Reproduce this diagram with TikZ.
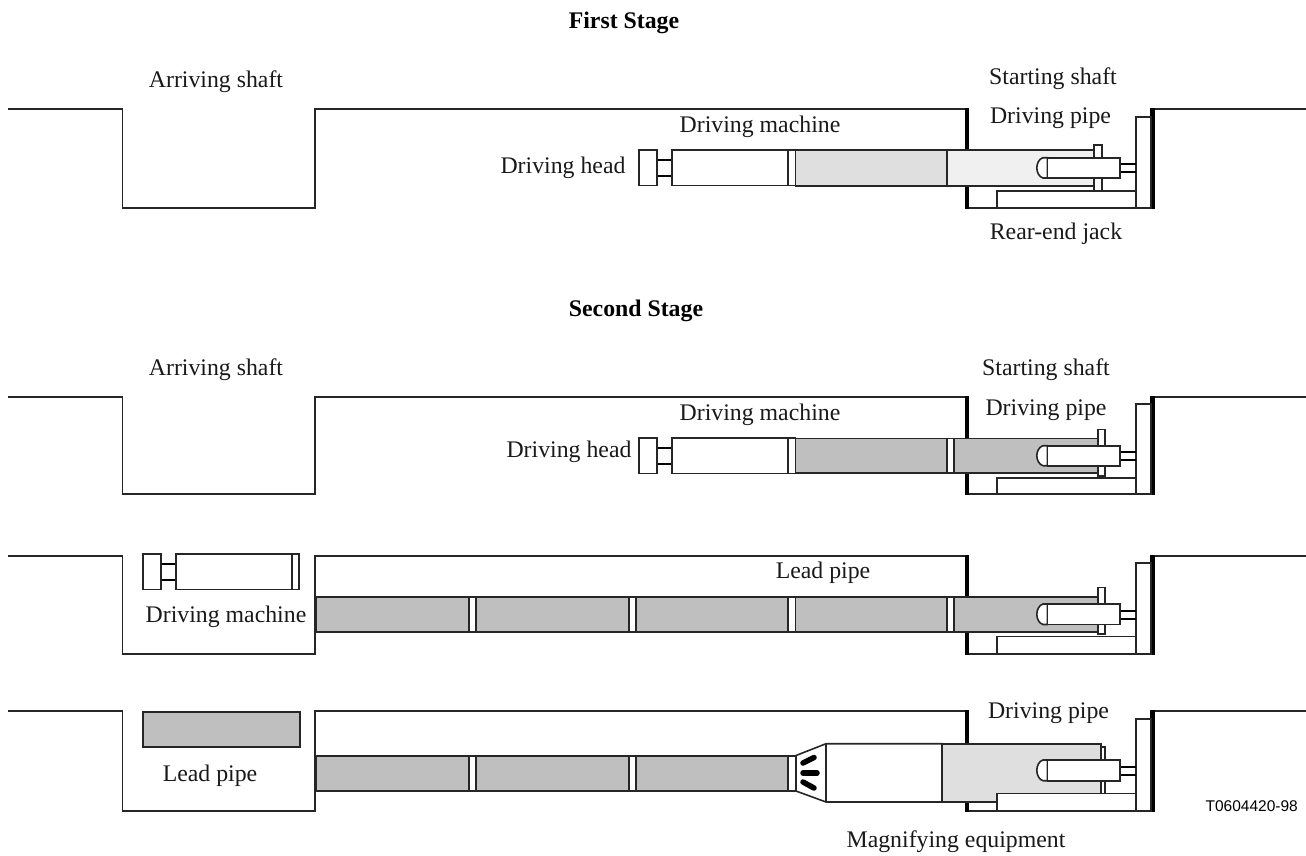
\documentclass[tikz,border=0pt]{standalone}
\usepackage{fontspec}
\setmainfont{Liberation Serif}
\newfontfamily\smallsans{Liberation Sans}
\tikzset{
  thinline/.style={draw=black!85,line width=1.6pt},
  wall/.style={draw=black,line width=4.2pt},
  rod/.style={draw=black,line width=2pt},
  blade/.style={draw=black,line width=5.5pt,line cap=round},
  white box/.style={thinline,fill=white},
  dark pipe/.style={thinline,fill=pipedark},
  light pipe/.style={thinline,fill=pipelight},
  pale pipe/.style={thinline,fill=pipepale},
  lab/.style={font=\fontsize{23.8}{28}\selectfont,anchor=base,inner sep=0pt,text=black!90},
  head/.style={font=\fontsize{23.8}{28}\selectfont\bfseries,anchor=base,inner sep=0pt},
}
\definecolor{pipedark}{gray}{0.75}
\definecolor{pipelight}{gray}{0.875}
\definecolor{pipepale}{gray}{0.94}
% ground profile: #1 ground y, #2 pit bottom y
\newcommand{\groundline}[2]{%
  \draw[thinline] (8,#1) -- (122.5,#1) -- (122.5,#2) -- (315,#2) -- (315,#1) -- (967,#1);
  \draw[thinline] (1152,#1) -- (1306,#1);
  \draw[thinline] (967,#2) -- (1152,#2);
  \draw[wall] (967,#1-1) -- (967,#2+1);
  \draw[wall] (1152.5,#1-1) -- (1152.5,#2+1);
}
% rear jack: #1 plate top, #2 jack top, #3 bottom
\newcommand{\rearjack}[3]{%
  \draw[white box] (1135.7,#1) rectangle (1151,#3);
  \draw[white box] (997,#2) rectangle (1135.7,#3);
}
% ram cylinder: #1 top, #2 bottom
\newcommand{\ram}[2]{%
  \draw[rod] (1120,#1+6.5) -- (1135.7,#1+6.5);
  \draw[rod] (1120,#2-6) -- (1135.7,#2-6);
  \draw[white box] (1047.3,#1) -- (1043,#1) .. controls (1039,#1+1) and (1036.8,#1+6) .. (1036.8,{(#1+#2)/2}) .. controls (1036.8,#2-6) and (1039,#2-1) .. (1043,#2) -- (1047.3,#2) -- cycle;
  \draw[white box] (1047.3,#1) rectangle (1120,#2);
}
% driving machine: #1 x of head left, #2 top y
\newcommand{\machine}[2]{%
  \draw[rod] (#1+18,#2+10) -- (#1+33,#2+10);
  \draw[rod] (#1+18,#2+25.5) -- (#1+33,#2+25.5);
  \draw[white box] (#1,#2) rectangle (#1+18,#2+35.5);
  \draw[white box] (#1+33,#2) rectangle (#1+149,#2+35.5);
  \draw[white box] (#1+149,#2) rectangle (#1+156.5,#2+35.5);
}
\begin{document}
\begin{tikzpicture}[x=1pt,y=-1pt]
\useasboundingbox (0,0) rectangle (1306,855);
% ---------- First stage
\groundline{109}{208}
\rearjack{116.7}{191}{208}
\draw[pale pipe] (946.7,150) rectangle (1094,186);
\draw[white box] (1094,145) rectangle (1102,191);
\ram{157.7}{178}
\machine{639}{150}
\draw[light pipe] (795.5,150) rectangle (946.7,186);
% ---------- Second stage, top
\groundline{397}{494}
\rearjack{404}{477.7}{494}
\draw[white box] (1097.7,429.3) rectangle (1105,476);
\draw[dark pipe] (795.5,438.3) rectangle (946.7,473);
\draw[white box] (946.7,438.3) rectangle (954,473);
\draw[dark pipe] (954,438.3) rectangle (1097.7,473);
\ram{445.7}{465.7}
\machine{639}{438}
% ---------- Second stage, middle
\groundline{556}{654}
\rearjack{563}{636.5}{654}
\draw[white box] (1097.7,587.5) rectangle (1105,634);
\foreach \a/\b in {316/469,476/629,636/788,795.5/946.7,954/1097.7}{
  \draw[dark pipe] (\a,596.7) rectangle (\b,631.7);
}
\foreach \a/\b in {469/476,629/636,788/795.5,946.7/954}{
  \draw[white box] (\a,596.7) rectangle (\b,631.7);
}
\ram{604}{624.5}
\machine{142.7}{554}
% ---------- Second stage, bottom
\groundline{711}{811}
\rearjack{719}{793.3}{811}
\draw[white box] (1101,747) rectangle (1105,793.3);
\draw[light pipe] (942,743.7) -- (1101,743.7) -- (1101,793.3) -- (997,793.3) -- (997,802) -- (942,802) -- cycle;
\ram{760}{780.7}
\draw[dark pipe] (143,712) rectangle (300,747);
\foreach \a/\b in {316/469,476/629,636/788}{
  \draw[dark pipe] (\a,756) rectangle (\b,790.7);
}
\foreach \a/\b in {469/476,629/636,788/796}{
  \draw[white box] (\a,756) rectangle (\b,790.7);
}
\draw[white box] (796,755.5) -- (826,743.7) -- (942,743.7) -- (942,802) -- (826,802) -- (796,791) -- cycle;
\draw[thinline] (826,743.7) -- (826,802);
\draw[blade] (803,763) -- (814,757.5);
\draw[blade] (803,773) -- (817,773);
\draw[blade] (803,782) -- (814,788);
% ---------- Labels
\node[head] (t1) at (624,28) {First Stage};
\node[head] (t2) at (636,316) {Second Stage};
\node[lab] (a1) at (216,87) {Arriving shaft};
\node[lab] (s1) at (1053,84) {Starting shaft};
\node[lab] (p1) at (1050.5,123) {Driving pipe};
\node[lab] (m1) at (760,132) {Driving machine};
\node[lab] (h1) at (563,173) {Driving head};
\node[lab] (r1) at (1056,239) {Rear-end jack};
\node[lab] (a2) at (216,375) {Arriving shaft};
\node[lab] (s2) at (1046,375) {Starting shaft};
\node[lab] (p2) at (1046,415.5) {Driving pipe};
\node[lab] (m2) at (760,420) {Driving machine};
\node[lab] (h2) at (569,457) {Driving head};
\node[lab] (l1) at (823,578) {Lead pipe};
\node[lab] (m3) at (226,622) {Driving machine};
\node[lab] (p3) at (1048.5,718) {Driving pipe};
\node[lab] (l2) at (210,781) {Lead pipe};
\node[lab] (me) at (956,847) {Magnifying equipment};
\node[font=\smallsans\fontsize{15.5}{18}\selectfont,anchor=base east,inner sep=0pt] (id) at (1298,811) {T0604420-98};
\end{tikzpicture}
\end{document}
